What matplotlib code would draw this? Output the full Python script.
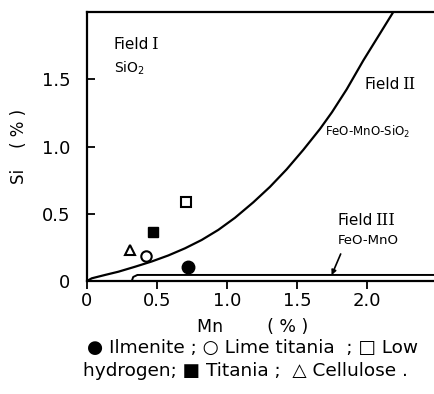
import matplotlib
matplotlib.use("Agg")
import matplotlib.pyplot as plt

plt.rcParams['font.family'] = ['DejaVu Sans', 'Noto Sans CJK JP']

# Boundary curve between Field I and Field II
curve_mn = [0.0, 0.034, 0.129, 0.224, 0.343, 0.462, 0.581, 0.700, 0.819, 0.938,
            1.057, 1.188, 1.307, 1.426, 1.545, 1.664, 1.750, 1.855, 1.974, 2.093, 2.188]
curve_si = [0.0, 0.020, 0.045, 0.069, 0.106, 0.145, 0.190, 0.243, 0.305, 0.380,
            0.470, 0.585, 0.700, 0.830, 0.975, 1.130, 1.255, 1.425, 1.640, 1.840, 2.000]

# Field III boundary (thin band near Si = 0)
band_mn = [0.32, 0.33, 0.36, 2.50]
band_si = [0.0, 0.03, 0.045, 0.045]

# Electrode data points
ilmenite = (0.724, 0.106)
lime_titania = (0.42, 0.185)
low_hydrogen = (0.71, 0.59)
titania = (0.474, 0.367)
cellulose = (0.307, 0.23)

xticks = [0, 0.5, 1.0, 1.5, 2.0]
xticklabels = ['0', '0.5', '1.0', '1.5', '2.0']
yticks = [0, 0.5, 1.0, 1.5]
yticklabels = ['0', '0.5', '1.0', '1.5']

fig = plt.figure(figsize=(4.35, 3.94), dpi=100)
ax = fig.add_axes([0.2, 0.2868, 0.8, 0.6827])
ax.set_xlim(0, 2.486)
ax.set_ylim(0, 2.0)

ax.plot(curve_mn, curve_si, color='black', lw=1.6, solid_capstyle='round', solid_joinstyle='round')
ax.plot(band_mn, band_si, color='black', lw=1.4, solid_joinstyle='round')

ms_kw = dict(color='black', linestyle='none')
ax.plot(*ilmenite, marker='o', markersize=9, **ms_kw)
ax.plot(*lime_titania, marker='o', markersize=7.5, markerfacecolor='white', markeredgewidth=1.5, **ms_kw)
ax.plot(*low_hydrogen, marker='s', markersize=6.5, markerfacecolor='white', markeredgewidth=1.5, **ms_kw)
ax.plot(*titania, marker='s', markersize=7, **ms_kw)
ax.plot(*cellulose, marker='^', markersize=7.5, markerfacecolor='white', markeredgewidth=1.5, **ms_kw)

ax.spines['right'].set_visible(False)
for s in ['left', 'top', 'bottom']:
    ax.spines[s].set_linewidth(1.6)

ax.set_xticks(xticks)
ax.set_xticklabels(xticklabels, fontsize=13)
ax.set_yticks(yticks)
ax.set_yticklabels(yticklabels, fontsize=13)
ax.tick_params(axis='x', direction='out', length=6, width=1.3, pad=2)
ax.tick_params(axis='y', direction='in', length=6, width=1.3, pad=12)

fig.text(253 / 435, 1 - 327 / 394, 'Mn        ( % )', fontsize=12.5, ha='center', va='center')
ax.set_ylabel('Si    ( % )', fontsize=12, labelpad=10)


def field_label(x, y, numeral):
    t = ax.text(x, y, 'Field', fontsize=11, va='center', ha='left')
    ax.annotate(numeral, xy=(1.0, 0.5), xycoords=t, xytext=(1.5, 0),
                textcoords='offset points', fontsize=12, va='center', ha='left',
                family=['DejaVu Serif'])


# Field annotations
field_label(0.19, 1.76, 'I')
ax.text(0.19, 1.58, 'SiO$_2$', fontsize=10, va='center', ha='left')
field_label(1.98, 1.46, 'II')
ax.text(1.70, 1.11, 'FeO-MnO-SiO$_2$', fontsize=8.5, va='center', ha='left')
field_label(1.79, 0.45, 'III')
ax.text(1.79, 0.30, 'FeO-MnO', fontsize=9.5, va='center', ha='left')
ax.annotate('', xy=(1.74, 0.025), xytext=(1.82, 0.22),
            arrowprops=dict(arrowstyle='-|>', color='black', lw=1.2, mutation_scale=7))

fig.text(0.2, 0.118, '● Ilmenite ; ○ Lime titania  ; □ Low', fontsize=13.3, ha='left', va='center')
fig.text(0.19, 0.058, 'hydrogen; ■ Titania ;  △ Cellulose .', fontsize=13.3, ha='left', va='center')

fig.savefig('out.png', dpi=100)
